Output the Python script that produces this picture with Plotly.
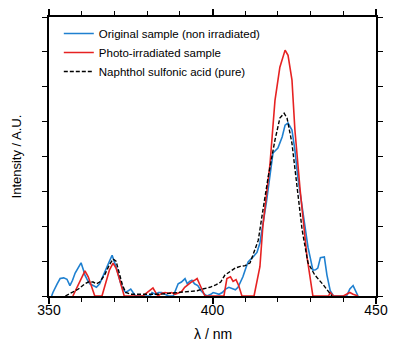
import plotly.graph_objects as go

# Original sample (non irradiated)
blue_x = [350.8, 351.2, 352.5, 353.4, 354.5, 355.5, 356.4, 357.2, 358, 359, 359.8, 360.5, 361, 361.8, 362.5, 363.5,
          364.5, 365.5, 366.5, 367.5, 368.5, 369.3, 370, 370.8, 371.8, 372.6, 373.5, 374.2, 375, 375.7, 376.5,
          381, 381.5, 382.5, 383.5, 384.5, 385.5, 386.5, 388, 389, 389.5, 390.5, 391.6, 392.3, 393, 393.7, 394.5,
          395.5, 396.5, 397.5, 398.3, 399.5, 400.2, 401, 402, 403, 404, 405, 406, 407, 407.8, 408.5, 409.3, 410.2,
          410.9, 412.4, 413.6, 414.5, 415.4, 416.5, 417.5, 418.5, 420, 421.3, 422.2, 423.1, 424.3, 425.2, 426.1,
          427.7, 429.2, 430.7, 431.5, 432.2, 433, 434.2, 435, 436, 437, 441, 442, 443, 444, 444.5]
blue_y = [0, 0.1, 0.35, 0.5, 0.52, 0.48, 0.3, 0.45, 0.66, 0.8, 0.95, 0.75, 0.6, 0.45, 0.35, 0.3,
          0.25, 0.35, 0.55, 0.8, 1.0, 1.17, 1.0, 0.75, 0.4, 0.2, 0.1, 0.15, 0.2, 0.1, 0.0,
          0.0, 0.1, 0.05, 0.1, 0.1, 0.05, 0.0, 0.0, 0.2, 0.35, 0.4, 0.5, 0.35, 0.42, 0.45, 0.35,
          0.3, 0.15, 0.05, 0.0, 0.05, 0.1, 0.08, 0.05, 0.1, 0.2, 0.25, 0.22, 0.18, 0.25, 0.4, 0.55, 0.8,
          0.98, 1.12, 1.25, 1.52, 2.0, 2.7, 3.4, 4.1, 4.24, 4.56, 4.9, 4.96, 4.76, 4.18, 3.4,
          2.38, 1.4, 0.74, 0.75, 0.8, 1.1, 1.12, 0.6, 0.15, 0.0, 0.0, 0.2, 0.3, 0.1, 0.0]

# Photo-irradiated sample
red_x = [357.3, 359, 360, 361, 362, 363, 364, 366.2, 367.5, 368.5, 369.6, 370.5, 371.5, 372.3, 373,
         378.7, 380, 381, 381.8, 382.5, 383.3, 384.5, 385.5, 386.5, 387.5, 388.5, 389.5, 390.5, 391.5,
         392.5, 393.5, 394.5, 395.3, 396, 397, 397.7, 403.5, 404.4, 405.5, 406.3, 407.2, 408, 409,
         412.7, 414.5, 415.4, 416.5, 417.6, 419.1, 420.6, 422.2, 423.1, 424.3, 425.2, 426.8, 428.9, 430.7,
         435.5, 436, 437, 440, 441, 442, 443, 444.5]
red_y = [0, 0.35, 0.55, 0.72, 0.55, 0.3, 0, 0, 0.4, 0.75, 0.94, 0.8, 0.5, 0.25, 0,
         0, 0.1, 0.18, 0.23, 0.12, 0, 0.08, 0.1, 0.08, 0.1, 0.05, 0.08, 0.12, 0.25,
         0.33, 0.4, 0.45, 0.5, 0.35, 0.15, 0, 0, 0.5, 0.55, 0.42, 0.47, 0.3, 0,
         0, 0.84, 2.0, 2.9, 3.8, 5.6, 6.56, 7.05, 6.9, 6.2, 4.76, 3.04, 1.12, 0,
         0, 0.1, 0, 0, 0.05, 0.1, 0.05, 0]

# Naphthol sulfonic acid (pure)
black_x = [355, 357, 359, 361, 362, 363.5, 364.5, 365.5, 367, 368.5, 369.6, 370.5, 371.5, 372.5, 373.5,
           375, 378, 381, 384, 387, 390, 393, 395.3, 397, 399.2, 401, 402.5, 403.8, 405.5, 406.9, 408.5,
           410, 411.5, 413, 414, 415.1, 417, 419.1, 420.6, 421.9, 422.8, 424.3, 425.8, 427.4, 429.2,
           431.3, 433.8, 436.5]
black_y = [0, 0.1, 0.2, 0.35, 0.4, 0.4, 0.35, 0.4, 0.6, 0.9, 1.06, 1.0, 0.65, 0.3, 0.1,
           0.05, 0.05, 0.05, 0.05, 0.08, 0.1, 0.12, 0.15, 0.2, 0.25, 0.32, 0.4, 0.6, 0.7, 0.8, 0.85,
           0.87, 0.95, 1.35, 1.6, 2.27, 3.4, 4.47, 5.1, 5.24, 5.1, 4.38, 3.12, 1.9, 0.95,
           0.6, 0.33, 0]

names = ["Original sample (non irradiated)", "Photo-irradiated sample", "Naphthol sulfonic acid (pure)"]
x_major = [350, 400, 450]
x_title = "λ / nm"
y_title = "Intensity / A.U."

FONT = "Liberation Sans, Arial, sans-serif"

fig = go.Figure()
fig.add_trace(go.Scatter(x=blue_x, y=blue_y, mode="lines", name=names[0],
                         line=dict(color="#1f80d0", width=1.6)))
fig.add_trace(go.Scatter(x=red_x, y=red_y, mode="lines", name=names[1],
                         line=dict(color="#e62222", width=1.6)))
fig.add_trace(go.Scatter(x=black_x, y=black_y, mode="lines", name=names[2],
                         line=dict(color="black", width=1.4, dash="4px,2px")))

fig.update_layout(
    width=393, height=346,
    margin=dict(l=49, r=17, t=17, b=50, autoexpand=False),
    paper_bgcolor="white", plot_bgcolor="white",
    font=dict(family=FONT, color="black"),
    showlegend=True,
    legend=dict(x=0.03, y=0.993, xanchor="left", yanchor="top",
                bgcolor="rgba(0,0,0,0)", font=dict(size=11.5, family=FONT),
                tracegroupgap=0),
    annotations=[
        dict(text=x_title, xref="paper", yref="paper", x=0.5, y=-0.135,
             xanchor="center", yanchor="middle", showarrow=False,
             font=dict(size=14, family=FONT)),
        dict(text=y_title, xref="paper", yref="paper", x=-0.098, y=0.5, textangle=-90,
             xanchor="center", yanchor="middle", showarrow=False,
             font=dict(size=13, family=FONT)),
    ],
)
fig.update_xaxes(
    range=[350, 450], tickvals=x_major, ticktext=[str(v) for v in x_major],
    ticks="outside", ticklen=6, tickwidth=1.5, tickcolor="black",
    minor=dict(dtick=10, ticks="outside", ticklen=4, tickwidth=1.2, tickcolor="black"),
    showline=True, linecolor="black", linewidth=1.5, mirror="allticks",
    showgrid=False, zeroline=False, automargin=False,
    tickfont=dict(size=14, family=FONT), ticklabelstandoff=-6,
)
fig.update_yaxes(
    range=[0, 8], dtick=1, showticklabels=False,
    ticks="outside", ticklen=5, tickwidth=1.2, tickcolor="black",
    showline=True, linecolor="black", linewidth=1.5, mirror="allticks",
    showgrid=False, zeroline=False, automargin=False,
)

fig.write_html("out.html", config={"displayModeBar": False},
               post_script="document.body.style.margin='0';")
